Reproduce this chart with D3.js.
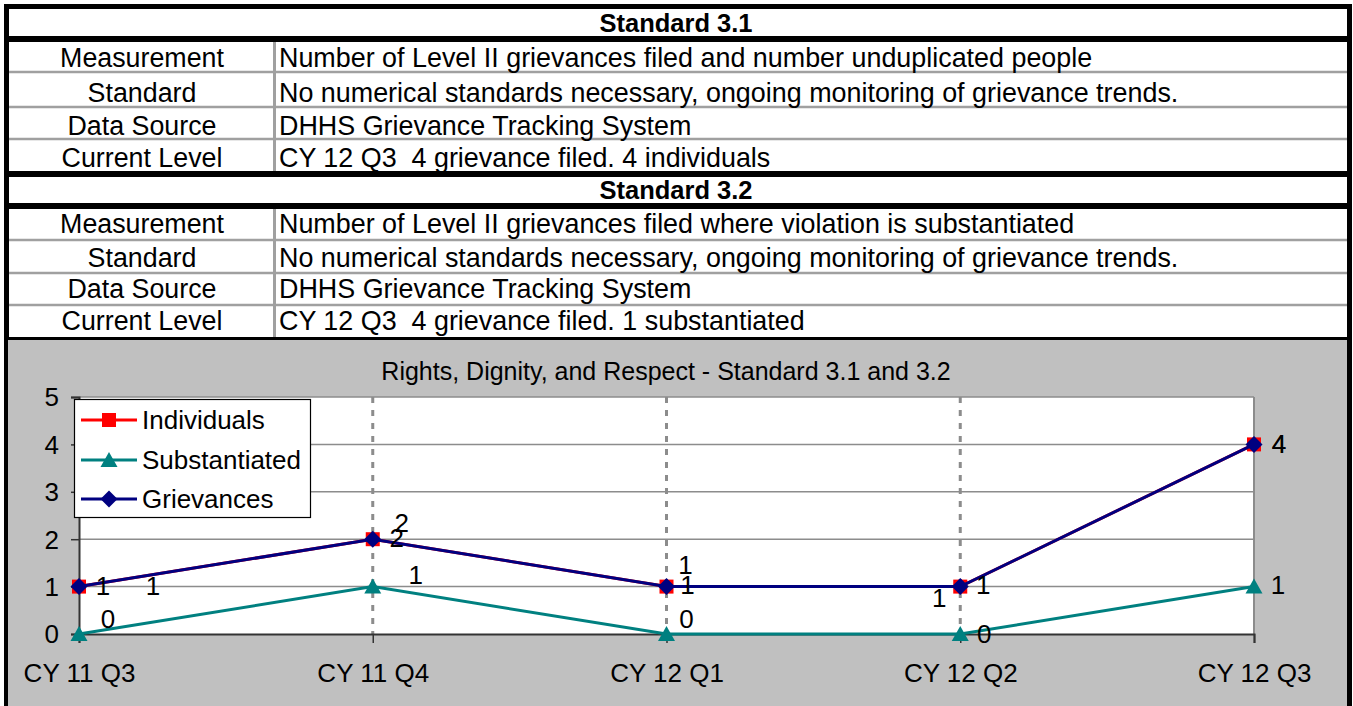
<!DOCTYPE html>
<html>
<head>
<meta charset="utf-8">
<script src="https://cdn.jsdelivr.net/npm/d3@7"></script>
<style>
  body { margin: 0; background: #fff; }
  svg { display: block; font-family: "Liberation Sans", Arial, sans-serif; }
  text { white-space: pre; }
</style>
</head>
<body>
<svg width="1353" height="706"></svg>
<script>
// ---- data ----
var categories = ["CY 11 Q3", "CY 11 Q4", "CY 12 Q1", "CY 12 Q2", "CY 12 Q3"];
var individuals = [1, 2, 1, 1, 4];
var substantiated = [0, 1, 0, 0, 1];
var grievances = [1, 2, 1, 1, 4];
var yTicks = [0, 1, 2, 3, 4, 5];

var rowLabels = ["Measurement", "Standard", "Data Source", "Current Level"];
var std31 = [
  "Number of Level II grievances filed and number unduplicated people",
  "No numerical standards necessary, ongoing monitoring of grievance trends.",
  "DHHS Grievance Tracking System",
  "CY 12 Q3  4 grievance filed. 4 individuals"
];
var std32 = [
  "Number of Level II grievances filed where violation is substantiated",
  "No numerical standards necessary, ongoing monitoring of grievance trends.",
  "DHHS Grievance Tracking System",
  "CY 12 Q3  4 grievance filed. 1 substantiated"
];
var chartTitle = "Rights, Dignity, and Respect - Standard 3.1 and 3.2";

// label nudges (px from the point), as the labels were dragged in the original
var nudgeGriev = [[24, 8], [24, 8], [21, 7], [23, 7], [25, 9]];
var nudgeIndiv = [[74, 8], [29, -7], [19, -13], [-21, 20], [25, 9]];
var nudgeSubst = [[29, -6], [43, -3], [20, -6], [24, 9], [24, 7]];

const svg = d3.select("svg"),
    W = 1353, H = 706;

// ---- table ----
var tables = [
  { title: "Standard 3.1", top: 4, rows: std31, lines: [42, 72, 107, 139, 171], base: [67, 102, 135, 167], titleBase: 32 },
  { title: "Standard 3.2", top: 171, rows: std32, lines: [209, 240, 273, 305, 337], base: [233, 267, 298, 330], titleBase: 199 }
];

svg.append("rect").attr("x", 4).attr("y", 4).attr("width", 1348).attr("height", 336).attr("fill", "#fff");

tables.forEach(function(t) {
  var g = svg.append("g");
  // thin row separators
  for (var i = 1; i < 4; i++) {
    g.append("line").attr("x1", 8).attr("x2", 1348)
      .attr("y1", t.lines[i]).attr("y2", t.lines[i])
      .attr("stroke", "#a0a0a0").attr("stroke-width", 2.5);
  }
  g.append("line").attr("x1", 274.5).attr("x2", 274.5)
    .attr("y1", t.lines[0]).attr("y2", t.lines[4])
    .attr("stroke", "#a0a0a0").attr("stroke-width", 3);
  // title
  g.append("text").attr("x", 676).attr("y", t.titleBase)
    .attr("text-anchor", "middle").attr("font-weight", "bold")
    .attr("font-size", 25.5).text(t.title);
  g.selectAll("text.lab").data(rowLabels).enter().append("text")
    .attr("class", "lab").attr("x", 142).attr("y", function(d, i) { return t.base[i]; })
    .attr("text-anchor", "middle").attr("font-size", 26.8).text(function(d) { return d; });
  g.selectAll("text.val").data(t.rows).enter().append("text")
    .attr("class", "val").attr("x", 279).attr("y", function(d, i) { return t.base[i]; })
    .attr("font-size", 26.9).text(function(d) { return d; });
});

// thick black rules
[[4, 5], [36, 6], [171, 6], [203, 6], [337, 3]].forEach(function(r) {
  svg.append("rect").attr("x", 4).attr("y", r[0]).attr("width", 1348).attr("height", r[1]).attr("fill", "#000");
});
svg.append("rect").attr("x", 4).attr("y", 4).attr("width", 5).attr("height", 336).attr("fill", "#000");
svg.append("rect").attr("x", 1347).attr("y", 4).attr("width", 5).attr("height", 336).attr("fill", "#000");

// ---- chart area ----
svg.append("rect").attr("x", 4).attr("y", 340).attr("width", 1348).attr("height", 366).attr("fill", "#000");
svg.append("rect").attr("x", 8).attr("y", 340).attr("width", 1339).attr("height", 366).attr("fill", "#c0c0c0");

var x = d3.scalePoint().domain(categories).range([79, 1254]).padding(0);
var y = d3.scaleLinear().domain([0, 5]).range([634, 397]);

svg.append("rect").attr("x", 79).attr("y", 397).attr("width", 1175).attr("height", 237).attr("fill", "#fff");

// horizontal gridlines
svg.append("g").selectAll("line").data(yTicks.slice(1)).enter().append("line")
  .attr("x1", 79).attr("x2", 1254)
  .attr("y1", function(d) { return y(d); }).attr("y2", function(d) { return y(d); })
  .attr("stroke", "#8c8c8c").attr("stroke-width", 1.5);

// vertical dashed gridlines
svg.append("g").selectAll("line").data(categories.slice(1, 4)).enter().append("line")
  .attr("x1", function(d) { return x(d); }).attr("x2", function(d) { return x(d); })
  .attr("y1", 397).attr("y2", 634)
  .attr("stroke", "#8c8c8c").attr("stroke-width", 3).attr("stroke-dasharray", "6,7");
svg.append("line").attr("x1", 1254).attr("x2", 1254).attr("y1", 397).attr("y2", 634)
  .attr("stroke", "#8c8c8c").attr("stroke-width", 2);

// axes
var yAxis = svg.append("g").attr("transform", "translate(79,0)")
  .call(d3.axisLeft(y).tickValues(yTicks).tickFormat(d3.format("d")).tickSize(8).tickPadding(12));
var xAxis = svg.append("g").attr("transform", "translate(0,634)")
  .call(d3.axisBottom(x).tickSize(9).tickPadding(0));
[yAxis, xAxis].forEach(function(a) {
  a.select(".domain").attr("stroke", "#333").attr("stroke-width", 2);
  a.selectAll(".tick line").attr("stroke", "#333").attr("stroke-width", 1.5);
  a.selectAll("text").attr("font-size", 26).attr("fill", "#000")
    .attr("font-family", "Liberation Sans, Arial, sans-serif");
});
yAxis.selectAll("text").attr("dy", "0.34em");
xAxis.selectAll("text").attr("y", 48).attr("dy", 0);

// title
svg.append("text").attr("x", 666).attr("y", 380).attr("text-anchor", "middle")
  .attr("font-size", 25).text(chartTitle);

// ---- series ----
var series = [
  { name: "Individuals", values: individuals, color: "#ff0000", marker: "square", nudge: nudgeIndiv },
  { name: "Substantiated", values: substantiated, color: "#008080", marker: "triangle", nudge: nudgeSubst },
  { name: "Grievances", values: grievances, color: "#000080", marker: "diamond", nudge: nudgeGriev }
];

function markerPath(type) {
  if (type === "square") return "M-7,-7H7V7H-7Z";
  if (type === "triangle") return "M0,-8L8.5,7H-8.5Z";
  return "M0,-8.5L8.5,0L0,8.5L-8.5,0Z";
}

var line = d3.line()
  .x(function(d, i) { return x(categories[i]); })
  .y(function(d) { return y(d); });

series.forEach(function(s) {
  var g = svg.append("g");
  g.append("path").datum(s.values).attr("d", line)
    .attr("fill", "none").attr("stroke", s.color).attr("stroke-width", 3);
  g.selectAll("path.m").data(s.values).enter().append("path")
    .attr("class", "m").attr("d", markerPath(s.marker))
    .attr("transform", function(d, i) { return "translate(" + x(categories[i]) + "," + y(d) + ")"; })
    .attr("fill", s.color);
});

// data labels
series.forEach(function(s) {
  svg.append("g").selectAll("text").data(s.values).enter().append("text")
    .attr("x", function(d, i) { return x(categories[i]) + s.nudge[i][0]; })
    .attr("y", function(d) { return y(d); })
    .attr("dy", function(d, i) { return s.nudge[i][1]; })
    .attr("text-anchor", "middle").attr("font-size", 26)
    .text(function(d) { return d; });
});

// ---- legend ----
var legend = svg.append("g");
legend.append("rect").attr("x", 74.5).attr("y", 399.5).attr("width", 236).attr("height", 118)
  .attr("fill", "#fff").attr("stroke", "#000").attr("stroke-width", 1.2);
var leg = legend.selectAll("g").data(series).enter().append("g")
  .attr("transform", function(d, i) { return "translate(0," + [420, 460, 499][i] + ")"; });
leg.append("line").attr("x1", 81).attr("x2", 137).attr("y1", 0).attr("y2", 0)
  .attr("stroke", function(d) { return d.color; }).attr("stroke-width", 3);
leg.append("path").attr("d", function(d) { return markerPath(d.marker); })
  .attr("transform", "translate(109,0)")
  .attr("fill", function(d) { return d.color; });
leg.append("text").attr("x", 142).attr("y", 9).attr("font-size", 26)
  .text(function(d) { return d.name; });
</script>
</body>
</html>
